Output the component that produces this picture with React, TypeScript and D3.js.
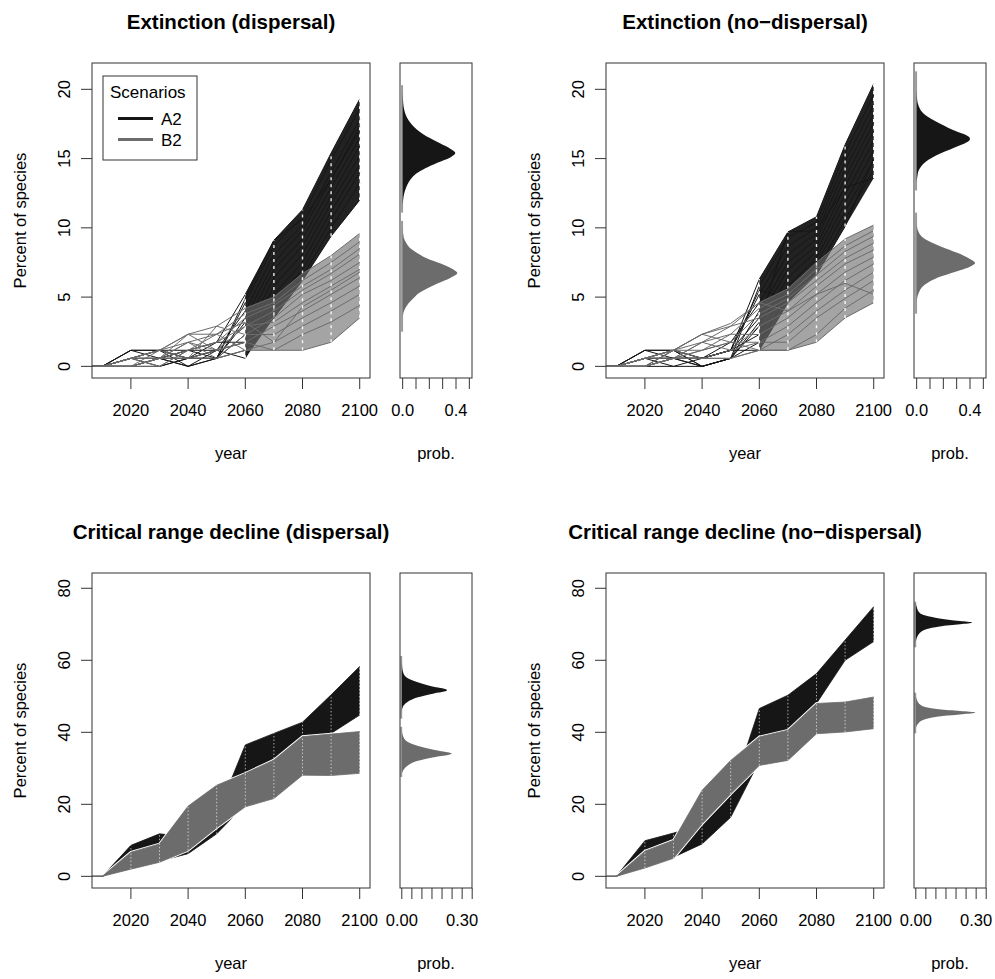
import React from 'react';
import * as d3 from 'd3';

// decades; the 2000 point sits left of the plot window and gets clipped
const years = [2000, 2010, 2020, 2030, 2040, 2050, 2060, 2070, 2080, 2090, 2100];

// Extinction (dispersal)
const extDispA2 = [
  [0, 0, 1.16, 1.16, 1.16, 1.74, 5.2, 9.1, 11.3, 15.4, 19.3],
  [0, 0, 0.58, 1.16, 0, 0.58, 4.6, 8.7, 10.8, 14.9, 18.6],
  [0, 0, 0, 0.58, 0.58, 1.16, 4.0, 8.1, 10.2, 14.0, 17.8],
  [0, 0, 0.58, 0.58, 0.58, 0.58, 3.5, 7.5, 9.8, 13.5, 17.0],
  [0, 0, 1.16, 0.58, 1.16, 1.16, 2.9, 7.0, 9.2, 12.9, 16.5],
  [0, 0, 0, 0, 0.58, 0.58, 2.3, 6.4, 8.7, 12.3, 15.9],
  [0, 0, 0.58, 1.16, 0.58, 1.74, 1.74, 5.8, 8.1, 11.8, 15.2],
  [0, 0, 0, 0.58, 0, 0.58, 1.16, 5.2, 7.5, 11.2, 14.6],
  [0, 0, 0.58, 0, 0.58, 1.16, 0.58, 4.6, 7.0, 10.6, 14.0],
  [0, 0, 0, 0.58, 1.16, 0.58, 3.2, 4.0, 6.5, 10.0, 13.2],
  [0, 0, 0.58, 0.58, 0, 1.16, 1.74, 3.5, 6.2, 9.4, 12.0],
  [0, 0, 1.16, 1.16, 0.58, 0.58, 4.9, 9.1, 10.6, 13.5, 17.3],
];
const extDispB2 = [
  [0, 0, 0.58, 1.16, 2.32, 2.9, 4.2, 5.0, 6.7, 8.0, 9.6],
  [0, 0, 0, 0.58, 1.74, 2.32, 3.8, 4.6, 6.2, 7.5, 9.0],
  [0, 0, 0.58, 0.58, 1.16, 1.74, 3.5, 4.4, 5.8, 7.0, 8.5],
  [0, 0, 0, 1.16, 1.74, 1.16, 2.9, 4.0, 5.5, 6.7, 8.1],
  [0, 0, 0.58, 0.58, 0.58, 2.9, 2.3, 3.5, 5.2, 6.2, 7.5],
  [0, 0, 0, 0, 1.16, 1.74, 2.9, 3.2, 4.6, 5.8, 7.0],
  [0, 0, 0.58, 1.16, 2.32, 1.16, 1.74, 2.9, 4.0, 5.2, 6.4],
  [0, 0, 0, 0.58, 0.58, 0.58, 2.3, 2.3, 3.5, 4.6, 5.8],
  [0, 0, 0.58, 0, 1.16, 2.32, 1.16, 1.74, 2.9, 4.0, 5.2],
  [0, 0, 0, 0.58, 1.74, 0.58, 1.16, 1.16, 2.3, 3.2, 4.4],
  [0, 0, 0.58, 1.16, 0.58, 1.16, 1.74, 1.16, 1.16, 1.74, 3.5],
  [0, 0, 0, 0.58, 2.32, 2.32, 3.2, 1.74, 4.3, 5.5, 6.8],
];

// Extinction (no-dispersal)
const extNoDispA2 = [
  [0, 0, 1.16, 1.16, 0.58, 1.16, 6.3, 9.7, 10.8, 16.0, 20.4],
  [0, 0, 0.58, 0.58, 0, 0.58, 5.8, 9.3, 10.4, 15.4, 19.6],
  [0, 0, 0, 1.16, 0.58, 1.16, 5.2, 8.7, 10.0, 14.8, 18.9],
  [0, 0, 0.58, 0.58, 0.58, 1.74, 4.6, 8.1, 9.6, 14.2, 18.2],
  [0, 0, 1.16, 0.58, 0, 0.58, 4.0, 7.5, 9.2, 13.6, 17.6],
  [0, 0, 0, 0, 0.58, 1.16, 3.5, 7.0, 8.7, 13.0, 17.0],
  [0, 0, 0.58, 1.16, 0, 0.58, 2.9, 6.4, 8.3, 12.4, 16.3],
  [0, 0, 0, 0.58, 0.58, 1.16, 2.3, 5.8, 7.8, 11.8, 15.6],
  [0, 0, 0.58, 0, 0, 0.58, 1.74, 5.2, 7.4, 11.2, 14.9],
  [0, 0, 0, 0.58, 0.58, 1.16, 1.16, 4.6, 6.9, 10.6, 14.2],
  [0, 0, 1.16, 1.16, 0, 0.58, 3.2, 9.7, 9.8, 12.9, 13.6],
  [0, 0, 0.58, 0.58, 0.58, 1.16, 5.5, 4.9, 6.6, 10.1, 15.0],
];
const extNoDispB2 = [
  [0, 0, 0.58, 1.16, 2.32, 3.1, 4.6, 5.6, 7.5, 9.2, 10.2],
  [0, 0, 0, 0.58, 1.74, 2.32, 4.2, 5.2, 7.0, 8.7, 9.8],
  [0, 0, 0.58, 1.16, 1.16, 1.74, 3.8, 4.9, 6.6, 8.3, 9.4],
  [0, 0, 0, 0.58, 1.74, 2.9, 3.5, 4.6, 6.2, 7.8, 8.9],
  [0, 0, 0.58, 1.16, 0.58, 1.16, 2.9, 4.0, 5.8, 7.4, 8.4],
  [0, 0, 0, 0.58, 1.16, 2.32, 2.3, 3.5, 5.2, 6.8, 7.9],
  [0, 0, 0.58, 1.16, 2.32, 1.74, 1.74, 2.9, 4.6, 6.2, 7.4],
  [0, 0, 0, 0.58, 0.58, 0.58, 1.16, 2.3, 4.0, 5.5, 6.8],
  [0, 0, 0.58, 1.16, 1.74, 1.16, 1.74, 1.74, 3.5, 4.9, 6.2],
  [0, 0, 0, 0.58, 1.16, 1.74, 1.16, 1.16, 2.3, 4.2, 5.5],
  [0, 0, 0.58, 0.58, 0.58, 0.58, 1.16, 1.16, 1.74, 3.5, 4.6],
  [0, 0, 0, 1.16, 2.32, 2.9, 4.6, 4.0, 5.2, 6.0, 5.2],
];

// Critical range decline (dispersal)
const crdDispA2 = [
  [0, 0, 8.6, 11.8, 11.0, 17.0, 36.5, 39.7, 42.8, 50.4, 58.3],
  [0, 0, 8.0, 10.5, 10.0, 16.0, 34.0, 38.0, 41.5, 48.8, 56.0],
  [0, 0, 7.5, 9.0, 9.0, 15.0, 31.0, 36.0, 40.0, 47.0, 53.5],
  [0, 0, 7.0, 7.5, 8.2, 14.0, 28.0, 33.0, 38.0, 45.5, 51.0],
  [0, 0, 6.5, 6.0, 7.5, 13.2, 25.0, 30.0, 36.0, 44.0, 49.0],
  [0, 0, 6.0, 5.0, 7.0, 12.5, 22.5, 27.0, 33.0, 42.0, 47.0],
  [0, 0, 5.5, 4.2, 6.3, 11.8, 20.0, 23.0, 30.0, 39.7, 44.8],
  [0, 0, 7.8, 11.2, 6.8, 12.2, 35.5, 24.5, 31.5, 41.0, 46.0],
];
const crdDispB2 = [
  [0, 0, 6.7, 9.0, 19.5, 25.3, 28.6, 32.3, 38.8, 39.5, 40.2],
  [0, 0, 6.0, 8.2, 17.8, 23.6, 27.2, 30.8, 37.3, 37.9, 38.6],
  [0, 0, 5.3, 7.4, 16.0, 21.9, 25.8, 29.3, 35.8, 36.3, 37.0],
  [0, 0, 4.6, 6.6, 14.2, 20.2, 24.4, 27.8, 34.3, 34.7, 35.4],
  [0, 0, 4.0, 5.8, 12.4, 18.5, 23.0, 26.3, 32.8, 33.1, 33.8],
  [0, 0, 3.4, 5.0, 10.6, 16.8, 21.6, 24.8, 31.3, 31.5, 32.2],
  [0, 0, 2.7, 4.4, 8.9, 15.1, 20.4, 23.2, 29.7, 29.9, 30.4],
  [0, 0, 2.0, 3.9, 7.2, 13.5, 19.3, 21.6, 28.1, 28.0, 28.6],
];

// Critical range decline (no-dispersal)
const crdNoDispA2 = [
  [0, 0, 9.9, 12.0, 14.5, 22.5, 46.6, 50.3, 56.3, 65.6, 74.9],
  [0, 0, 9.3, 10.9, 13.7, 21.4, 44.6, 48.7, 55.1, 64.8, 73.5],
  [0, 0, 8.8, 9.8, 12.9, 20.3, 42.5, 47.1, 53.9, 64.0, 72.1],
  [0, 0, 8.2, 8.7, 12.1, 19.2, 40.4, 45.5, 52.7, 63.2, 70.7],
  [0, 0, 7.7, 7.6, 11.3, 18.1, 38.3, 43.9, 51.5, 62.4, 69.3],
  [0, 0, 7.2, 6.5, 10.5, 17.4, 36.2, 42.3, 50.3, 61.6, 67.9],
  [0, 0, 6.7, 5.8, 9.7, 16.8, 34.1, 40.7, 49.1, 60.8, 66.5],
  [0, 0, 6.2, 5.3, 9.0, 16.4, 32.0, 39.0, 48.0, 60.0, 65.2],
];
const crdNoDispB2 = [
  [0, 0, 7.0, 10.0, 23.9, 32.2, 38.7, 40.6, 48.0, 48.4, 49.8],
  [0, 0, 6.3, 9.3, 22.6, 30.9, 37.6, 39.4, 46.8, 47.2, 48.5],
  [0, 0, 5.7, 8.6, 21.2, 29.6, 36.5, 38.2, 45.6, 46.0, 47.3],
  [0, 0, 5.0, 7.9, 19.9, 28.2, 35.3, 37.0, 44.4, 44.8, 46.0],
  [0, 0, 4.3, 7.1, 18.6, 26.9, 34.2, 35.8, 43.2, 43.6, 44.8],
  [0, 0, 3.6, 6.4, 17.2, 25.5, 33.1, 34.6, 42.0, 42.4, 43.5],
  [0, 0, 3.0, 5.7, 15.9, 24.2, 32.0, 33.4, 40.8, 41.3, 42.3],
  [0, 0, 2.3, 5.0, 14.6, 22.9, 30.8, 32.2, 39.6, 40.1, 41.0],
];

// densities of the 2100 values: [percent, prob]
const extDispA2Dens = [[11.5, 0], [12.0, 0.003], [12.5, 0.012], [13.0, 0.03], [13.5, 0.06], [13.9, 0.1], [14.3, 0.17], [14.7, 0.26], [15.1, 0.36], [15.4, 0.395], [15.7, 0.36], [16.1, 0.28], [16.5, 0.2], [17.0, 0.12], [17.5, 0.065], [18.0, 0.03], [18.5, 0.012], [19.0, 0.004], [19.8, 0]];
const extDispB2Dens = [[3.5, 0], [4.0, 0.01], [4.5, 0.04], [5.0, 0.09], [5.25, 0.115], [5.6, 0.18], [6.0, 0.265], [6.4, 0.36], [6.74, 0.41], [7.05, 0.37], [7.4, 0.29], [7.8, 0.18], [8.15, 0.115], [8.5, 0.06], [8.9, 0.027], [9.3, 0.008], [10.0, 0]];
const extNoDispA2Dens = [[13.3, 0], [13.7, 0.005], [14.15, 0.016], [14.75, 0.066], [15.36, 0.177], [15.96, 0.326], [16.2, 0.38], [16.44, 0.4], [16.7, 0.37], [16.92, 0.31], [17.52, 0.177], [18.24, 0.053], [18.8, 0.015], [19.3, 0.003], [20.0, 0]];
const extNoDispB2Dens = [[4.6, 0], [5.0, 0.005], [5.4, 0.02], [5.73, 0.041], [6.33, 0.14], [6.93, 0.326], [7.2, 0.4], [7.46, 0.438], [7.75, 0.4], [8.01, 0.35], [8.61, 0.19], [9.34, 0.041], [9.8, 0.01], [10.3, 0]];
const crdDispA2Dens = [[46.0, 0], [47.5, 0.01], [48.5, 0.03], [49.7, 0.08], [50.8, 0.16], [51.3, 0.21], [51.7, 0.225], [52.1, 0.21], [52.5, 0.17], [53.6, 0.095], [55.0, 0.03], [56.4, 0.008], [58.0, 0.002], [60.0, 0]];
const crdDispB2Dens = [[28.5, 0], [29.5, 0.008], [30.8, 0.03], [32.0, 0.075], [33.1, 0.16], [33.7, 0.23], [34.1, 0.248], [34.5, 0.22], [34.8, 0.19], [35.9, 0.1], [37.3, 0.03], [38.7, 0.008], [40.5, 0]];
const crdNoDispA2Dens = [[65.0, 0], [66.1, 0.004], [68.0, 0.028], [69.4, 0.118], [70.0, 0.22], [70.5, 0.28], [70.9, 0.22], [71.7, 0.11], [73.1, 0.02], [74.9, 0.004], [76.0, 0]];
const crdNoDispB2Dens = [[41.0, 0], [42.3, 0.01], [43.4, 0.036], [44.5, 0.134], [45.0, 0.23], [45.5, 0.296], [45.9, 0.22], [46.4, 0.115], [47.5, 0.026], [49.4, 0.003], [50.5, 0]];

// range of the sampled values (grey bar at prob = 0)
const extDispRange = { A2: [11.1, 20.3], B2: [2.5, 10.5] };
const extNoDispRange = { A2: [12.7, 21.3], B2: [3.8, 11.1] };
const crdDispRange = { A2: [43.8, 61.2], B2: [27.6, 41.5] };
const crdNoDispRange = { A2: [63.6, 76.3], B2: [39.7, 51.0] };

const yearTicks = [2020, 2040, 2060, 2080, 2100];
const extTicks = [0, 5, 10, 15, 20];
const crdTicks = [0, 20, 40, 60, 80];
const probTicksExt = [0, 0.1, 0.2, 0.3, 0.4, 0.5];
const probLabelsExt = [[0, '0.0'], [0.4, '0.4']];
const probTicksCrd = [0, 0.05, 0.1, 0.15, 0.2, 0.25, 0.3, 0.35];
const probLabelsCrd = [[0, '0.00'], [0.3, '0.30']];

const FONT = '"Liberation Sans", Arial, Helvetica, sans-serif';
const A2_COL = '#161616';
const B2_COL = '#6c6c6c';
const AXIS = '#333';
const FS = 16.5;

const panels = [
  {
    id: 'p1', title: 'Extinction (dispersal)', dx: 0, dy: 0, yDomain: [-0.84, 21.9], yTicks: extTicks,
    pDomain: [-0.02, 0.52], pTicks: probTicksExt, pLabels: probLabelsExt, dense: false, legend: true,
    a2: extDispA2, b2: extDispB2, a2d: extDispA2Dens, b2d: extDispB2Dens, range: extDispRange,
  },
  {
    id: 'p2', title: 'Extinction (no\u2212dispersal)', dx: 514, dy: 0, yDomain: [-0.84, 21.9], yTicks: extTicks,
    pDomain: [-0.02, 0.52], pTicks: probTicksExt, pLabels: probLabelsExt, dense: false, legend: false,
    a2: extNoDispA2, b2: extNoDispB2, a2d: extNoDispA2Dens, b2d: extNoDispB2Dens, range: extNoDispRange,
  },
  {
    id: 'p3', title: 'Critical range decline (dispersal)', dx: 0, dy: 510, yDomain: [-3.24, 84.24], yTicks: crdTicks,
    pDomain: [-0.009, 0.349], pTicks: probTicksCrd, pLabels: probLabelsCrd, dense: true, legend: false,
    a2: crdDispA2, b2: crdDispB2, a2d: crdDispA2Dens, b2d: crdDispB2Dens, range: crdDispRange,
  },
  {
    id: 'p4', title: 'Critical range decline (no\u2212dispersal)', dx: 514, dy: 510, yDomain: [-3.24, 84.24], yTicks: crdTicks,
    pDomain: [-0.009, 0.349], pTicks: probTicksCrd, pLabels: probLabelsCrd, dense: true, legend: false,
    a2: crdNoDispA2, b2: crdNoDispB2, a2d: crdNoDispA2Dens, b2d: crdNoDispB2Dens, range: crdNoDispRange,
  },
];

function Band({ lines, color, xs, ys, dense }) {
  const idx = years.map((_, i) => i);
  const lo = idx.map((i) => d3.min(lines, (l) => l[i]));
  const hi = idx.map((i) => d3.max(lines, (l) => l[i]));
  // top plots: lines are thin and only fill in after 2060
  const from = dense ? 2010 : 2060;
  const fillIdx = idx.filter((i) => years[i] >= from);
  const area = d3.area().x((i) => xs(years[i])).y0((i) => ys(lo[i])).y1((i) => ys(hi[i]));
  const line = d3.line().x((_, i) => xs(years[i])).y((d) => ys(d));
  const grey = color === B2_COL;
  return (
    <g>
      {dense && (
        <g fill="none" stroke="#fff" strokeWidth={2.6}>
          <path d={line(hi)} />
          <path d={line(lo)} />
        </g>
      )}
      <path d={area(fillIdx)} fill={color} fillOpacity={dense ? 1 : grey ? 0.62 : 0.95} />
      <g fill="none" stroke={color} strokeWidth={dense ? 0.8 : 1}>
        {lines.map((l, k) => <path key={k} d={line(l)} />)}
      </g>
      {idx.filter((i) => years[i] >= from && years[i] > 2010).map((i) => (
        <line key={i} x1={xs(years[i])} x2={xs(years[i])} y1={ys(lo[i])} y2={ys(hi[i])}
          stroke="#fff" strokeWidth={dense ? 0.9 : 1.4} strokeOpacity={dense ? 0.7 : 0.9}
          strokeDasharray={dense ? '1.5 2' : '3 4'} />
      ))}
    </g>
  );
}

function Panel({ p }) {
  const { dx, dy } = p;
  const L = 92 + dx, R = 370 + dx, T = 63 + dy, B = 378 + dy;
  const SL = 400 + dx, SR = 472 + dx;
  const xs = d3.scaleLinear().domain([2006.4, 2103.6]).range([L, R]);
  const ys = d3.scaleLinear().domain(p.yDomain).range([B, T]);
  const xp = d3.scaleLinear().domain(p.pDomain).range([SL, SR]);
  const dens = d3.area().y((d) => ys(d[0])).x0(xp(0)).x1((d) => xp(d[1])).curve(d3.curveMonotoneY);
  const midY = (T + B) / 2;
  return (
    <g fontFamily={FONT}>
      <defs>
        <clipPath id={`clip-${p.id}`}><rect x={L} y={T} width={R - L} height={B - T} /></clipPath>
        <clipPath id={`clips-${p.id}`}><rect x={SL} y={T} width={SR - SL} height={B - T} /></clipPath>
      </defs>
      <text x={(L + R) / 2} y={29 + dy} textAnchor="middle" fontWeight="bold" fontSize={20.5}>{p.title}</text>

      <g clipPath={`url(#clip-${p.id})`}>
        <Band lines={p.a2} color={A2_COL} xs={xs} ys={ys} dense={p.dense} />
        <Band lines={p.b2} color={B2_COL} xs={xs} ys={ys} dense={p.dense} />
      </g>
      <rect x={L} y={T} width={R - L} height={B - T} fill="none" stroke={AXIS} />

      {yearTicks.map((t) => (
        <g key={t}>
          <line x1={xs(t)} x2={xs(t)} y1={B} y2={B + 11} stroke={AXIS} />
          <text x={xs(t)} y={B + 38} textAnchor="middle" fontSize={FS}>{t}</text>
        </g>
      ))}
      {p.yTicks.map((t) => (
        <g key={t}>
          <line x1={L - 11} x2={L} y1={ys(t)} y2={ys(t)} stroke={AXIS} />
          <text transform={`translate(${L - 22},${ys(t)}) rotate(-90)`} textAnchor="middle" fontSize={FS}>{t}</text>
        </g>
      ))}
      <text x={(L + R) / 2} y={B + 81} textAnchor="middle" fontSize={FS}>year</text>
      <text transform={`translate(${L - 66},${midY}) rotate(-90)`} textAnchor="middle" fontSize={FS}>Percent of species</text>

      {p.legend && (
        <g>
          <rect x={103} y={76} width={94} height={84} fill="#fff" stroke={AXIS} />
          <text x={110} y={98} fontSize={17}>Scenarios</text>
          <line x1={118} x2={153} y1={118.5} y2={118.5} stroke={A2_COL} strokeWidth={2.8} />
          <text x={161} y={125} fontSize={17}>A2</text>
          <line x1={118} x2={153} y1={139.5} y2={139.5} stroke={B2_COL} strokeWidth={2.8} />
          <text x={161} y={146} fontSize={17}>B2</text>
        </g>
      )}

      <g clipPath={`url(#clips-${p.id})`}>
        {[['A2', A2_COL, p.a2d], ['B2', B2_COL, p.b2d]].map(([k, c, d]) => (
          <g key={k}>
            <line x1={xp(0) - 0.6} x2={xp(0) - 0.6} y1={ys(p.range[k][0])} y2={ys(p.range[k][1])} stroke="#9a9a9a" strokeWidth={2} />
            <path d={dens(d)} fill={c} />
          </g>
        ))}
      </g>
      <rect x={SL} y={T} width={SR - SL} height={B - T} fill="none" stroke={AXIS} />
      {p.pTicks.map((t) => (
        <line key={t} x1={xp(t)} x2={xp(t)} y1={B} y2={B + 11} stroke={AXIS} />
      ))}
      {p.pLabels.map(([v, s]) => (
        <text key={s} x={xp(v)} y={B + 38} textAnchor="middle" fontSize={FS}>{s}</text>
      ))}
      <text x={(SL + SR) / 2} y={B + 81} textAnchor="middle" fontSize={FS}>prob.</text>
    </g>
  );
}

export default function App() {
  return (
    <svg width={995} height={979} style={{ position: 'absolute', left: 0, top: 0, background: '#fff' }}>
      <rect width={995} height={979} fill="#fff" />
      {panels.map((p) => <Panel key={p.id} p={p} />)}
    </svg>
  );
}
